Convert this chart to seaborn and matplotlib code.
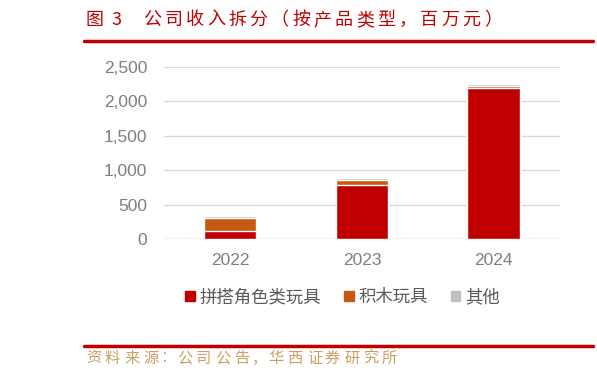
import numpy as np
import pandas as pd
import matplotlib
matplotlib.use('Agg')
import matplotlib.pyplot as plt
import matplotlib.patches as mpatches
import matplotlib.lines as mlines
import seaborn as sns

# 数据 (百万元)
years = ['2022', '2023', '2024']
pinda = [120, 780, 2190]     # 拼搭角色类玩具
jimu = [190, 80, 40]         # 积木玩具
qita = [25, 25, 25]          # 其他
series_names = ['拼搭角色类玩具', '积木玩具', '其他']
colors = ['#C00000', '#C55A11', '#BFBFBF']

title_text = '公司收入拆分（按产品类型，百万元）'
source_text = '资料来源：公司公告，华西证券研究所'

sns.set_theme(style='white')
plt.rcParams['font.family'] = ['Liberation Sans', 'Noto Sans CJK SC', 'DejaVu Sans']
plt.rcParams['axes.unicode_minus'] = False

W, H = 597, 377

df = pd.DataFrame({'year': years, 'a': pinda, 'b': jimu, 'c': qita})
df['ab'] = df['a'] + df['b']
df['abc'] = df['ab'] + df['c']

fig = plt.figure(figsize=(W / 100, H / 100), dpi=100)
ax = fig.add_axes([0.2747, 0.366, 0.663, 0.456])

# 堆叠柱: 从顶层往下画
sns.barplot(data=df, x='year', y='abc', color=colors[2], width=0.4, ax=ax, saturation=1)
sns.barplot(data=df, x='year', y='ab', color=colors[1], width=0.4, ax=ax, saturation=1)
sns.barplot(data=df, x='year', y='a', color=colors[0], width=0.4, ax=ax, saturation=1)

ax.set_ylim(0, 2500)
ax.set_yticks(np.arange(0, 2501, 500))
ax.set_yticklabels([f'{v:,}' for v in range(0, 2501, 500)])
ax.yaxis.grid(True, color='#D9D9D9', linewidth=1)
ax.set_axisbelow(True)
for s in ax.spines.values():
    s.set_visible(False)
ax.axhline(0, color='#D9D9D9', linewidth=1, zorder=0)
ax.set_xlabel('')
ax.set_ylabel('')
ax.tick_params(axis='both', colors='#7F7F7F', labelsize=12.5, length=0)
ax.tick_params(axis='y', pad=12)
ax.tick_params(axis='x', pad=10)

handles = [mpatches.Patch(color=c, label=n) for c, n in zip(colors, series_names)]
leg = fig.legend(handles=handles, loc='center', bbox_to_anchor=(0.574, 0.212), ncol=3,
                 frameon=False, handlelength=0.55, handleheight=0.55,
                 handletextpad=0.3, columnspacing=1.3,
                 prop={'family': ['Noto Sans CJK SC'], 'size': 12.5})
for t in leg.get_texts():
    t.set_color('#595959')


# 逐字放置 (原图字距较宽)
def place_chars(s, xs, y, **kw):
    for ch, x in zip(s, xs):
        fig.text(x / W, 1 - y / H, ch, ha='center', va='center', **kw)


title_kw = dict(color='#C00000', fontsize=13, family=['Noto Sans CJK SC'])
fig.text(94.5 / W, 1 - 20 / H, '图', ha='center', va='center', **title_kw)
fig.text(116 / W, 1 - 20 / H, '3', ha='center', va='center', **title_kw)
place_chars(title_text, [152 + 21.3 * i for i in range(len(title_text))], 20, **title_kw)

fig.add_artist(mlines.Line2D([84 / W, 593 / W], [1 - 41 / H, 1 - 41 / H], color='#C00000', linewidth=2.5))
fig.add_artist(mlines.Line2D([84 / W, 593 / W], [1 - 345.8 / H, 1 - 345.8 / H], color='#C00000', linewidth=2.5))

src_x = [93.5, 112.5, 132.5, 151.5, 167.8, 184.5, 203.5, 222.5, 241.5, 259.3,
         275.5, 294.5, 314.5, 332.5, 352.5, 370.5, 389.5]
place_chars(source_text, src_x, 358, color='#C8A064', fontsize=11, family=['Noto Sans CJK SC'])

fig.savefig('out.png', dpi=100)
